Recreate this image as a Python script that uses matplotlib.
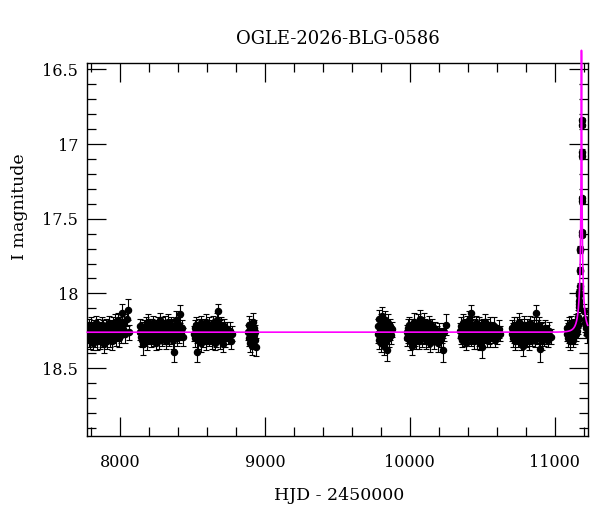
import numpy as np
import matplotlib
matplotlib.use("Agg")
import matplotlib.pyplot as plt
from matplotlib.ticker import MultipleLocator, FuncFormatter

# photometry, one list per observing season (HJD - 2450000, I mag, error in 0.01 mag)
t1 = [7777, 7780, 7784, 7787, 7791, 7795, 7798, 7802, 7806, 7809, 7813, 7817, 7821, 7824, 7828, 7832, 7836,
      7839, 7843, 7847, 7851, 7855, 7858, 7862, 7866, 7870, 7873, 7877, 7881, 7885, 7889, 7892, 7896, 7900,
      7904, 7908, 7911, 7915, 7919, 7923, 7927, 7930, 7934, 7938, 7942, 7946, 7950, 7954, 7958, 7962, 7967,
      7971, 7976, 7981, 7986, 7991, 7996, 8001, 8007, 8012, 8019, 8027, 8036, 8045, 8053, 8060]
m1 = [18.27, 18.24, 18.30, 18.22, 18.28, 18.31, 18.25, 18.21, 18.29, 18.26,
      18.33, 18.23, 18.27, 18.30, 18.24, 18.20, 18.28, 18.26, 18.32, 18.25,
      18.22, 18.29, 18.27, 18.31, 18.24, 18.26, 18.21, 18.30, 18.28, 18.23,
      18.34, 18.26, 18.25, 18.29, 18.22, 18.27, 18.31, 18.24, 18.28, 18.20,
      18.26, 18.30, 18.23, 18.27, 18.25, 18.32, 18.21, 18.28, 18.24, 18.26,
      18.19, 18.29, 18.23, 18.27, 18.18, 18.30, 18.25, 18.21, 18.28, 18.13,
      18.24, 18.19, 18.27, 18.17, 18.11, 18.26]
e1 = [5, 5, 6, 5, 5, 6, 5, 5, 5, 6, 5, 5, 5, 6, 5, 5, 5, 5, 6, 5, 5, 5, 5, 6, 5, 5, 5, 6, 5, 5, 6, 5, 5,
      5, 5, 5, 6, 5, 5, 5, 5, 6, 5, 5, 5, 6, 5, 5, 5, 5, 5, 6, 5, 5, 5, 6, 5, 5, 5, 6, 5, 5, 6, 5, 7, 5]

t2 = [8138, 8141, 8145, 8149, 8152, 8156, 8159, 8163, 8167, 8170, 8174, 8178, 8182, 8185, 8189, 8193, 8196,
      8200, 8204, 8208, 8211, 8215, 8219, 8222, 8226, 8230, 8234, 8237, 8241, 8245, 8248, 8252, 8256, 8260,
      8263, 8267, 8271, 8274, 8278, 8282, 8286, 8289, 8293, 8297, 8300, 8304, 8308, 8312, 8315, 8319, 8323,
      8326, 8330, 8334, 8338, 8341, 8345, 8349, 8352, 8356, 8360, 8364, 8367, 8371, 8373, 8378, 8382, 8387,
      8393, 8399, 8405, 8410, 8414, 8420, 8427, 8434]
m2 = [18.26, 18.22, 18.29, 18.24, 18.31, 18.27, 18.34, 18.23, 18.28, 18.25,
      18.30, 18.21, 18.27, 18.24, 18.32, 18.26, 18.19, 18.29, 18.23, 18.27,
      18.25, 18.31, 18.22, 18.28, 18.26, 18.20, 18.30, 18.24, 18.27, 18.33,
      18.23, 18.26, 18.29, 18.21, 18.27, 18.25, 18.31, 18.18, 18.28, 18.24,
      18.26, 18.30, 18.22, 18.27, 18.24, 18.29, 18.20, 18.26, 18.32, 18.25,
      18.23, 18.28, 18.19, 18.27, 18.30, 18.24, 18.26, 18.21, 18.29, 18.25,
      18.22, 18.28, 18.31, 18.26, 18.39, 18.23, 18.27, 18.18, 18.30, 18.25,
      18.21, 18.28, 18.14, 18.26, 18.23, 18.29]
e2 = [5, 5, 6, 5, 5, 5, 7, 5, 5, 6, 5, 5, 5, 5, 6, 5, 5, 5, 6, 5, 5, 5, 5, 6, 5, 5, 5, 6, 5, 5, 5, 6, 5,
      5, 5, 5, 6, 5, 5, 5, 5, 5, 6, 5, 5, 5, 5, 6, 5, 5, 5, 6, 5, 5, 5, 5, 6, 5, 5, 5, 5, 5, 6, 5, 7, 5,
      5, 6, 5, 5, 5, 5, 6, 5, 5, 6]

t3 = [8511, 8515, 8518, 8522, 8525, 8529, 8533, 8536, 8540, 8544, 8547, 8551, 8555, 8558, 8562, 8566, 8569,
      8573, 8577, 8580, 8584, 8588, 8591, 8595, 8599, 8602, 8606, 8610, 8613, 8617, 8621, 8624, 8628, 8632,
      8635, 8639, 8643, 8646, 8650, 8654, 8657, 8661, 8665, 8668, 8672, 8677, 8680, 8684, 8688, 8691, 8695,
      8699, 8703, 8707, 8711, 8716, 8721, 8727, 8733, 8740, 8748, 8757, 8765, 8770]
m3 = [18.27, 18.23, 18.30, 18.25, 18.21, 18.39, 18.28, 18.24, 18.31, 18.26,
      18.22, 18.29, 18.25, 18.33, 18.20, 18.27, 18.24, 18.30, 18.26, 18.22,
      18.28, 18.25, 18.32, 18.19, 18.27, 18.24, 18.29, 18.26, 18.21, 18.30,
      18.25, 18.28, 18.23, 18.31, 18.26, 18.20, 18.29, 18.24, 18.27, 18.33,
      18.22, 18.26, 18.30, 18.24, 18.18, 18.12, 18.28, 18.25, 18.31, 18.23,
      18.27, 18.21, 18.29, 18.25, 18.34, 18.26, 18.22, 18.30, 18.27, 18.24,
      18.29, 18.25, 18.32, 18.27]
e3 = [5, 5, 6, 5, 5, 7, 5, 5, 6, 5, 5, 5, 5, 6, 5, 5, 5, 6, 5, 5, 5, 5, 6, 5, 5, 5, 5, 6, 5, 5, 5, 5, 5,
      6, 5, 5, 5, 5, 6, 5, 5, 5, 6, 5, 5, 5, 5, 5, 6, 5, 5, 5, 5, 6, 5, 5, 5, 6, 5, 5, 5, 6, 5, 5]

t4 = [8884, 8888, 8891, 8895, 8898, 8902, 8905, 8909, 8912, 8916, 8919, 8923, 8926, 8930, 8934, 8938]
m4 = [18.26, 18.21, 18.30, 18.24, 18.33, 18.27, 18.22, 18.35, 18.25, 18.29, 18.19, 18.28, 18.23, 18.31,
      18.26, 18.36]
e4 = [5, 6, 5, 5, 6, 5, 5, 6, 5, 5, 6, 5, 5, 6, 5, 6]

t5 = [9779, 9782, 9785, 9789, 9792, 9795, 9799, 9802, 9805, 9809, 9812, 9815, 9819, 9822, 9825, 9829, 9832,
      9835, 9839, 9842, 9845, 9849, 9852, 9856, 9860, 9865, 9871, 9878]
m5 = [18.27, 18.22, 18.31, 18.17, 18.25, 18.29, 18.20, 18.33, 18.24, 18.15, 18.28, 18.26, 18.35, 18.21,
      18.30, 18.18, 18.27, 18.32, 18.23, 18.29, 18.38, 18.25, 18.20, 18.30, 18.26, 18.22, 18.28, 18.24]
e5 = [6, 5, 6, 6, 5, 5, 6, 6, 5, 6, 5, 5, 6, 5, 6, 6, 5, 6, 5, 5, 7, 5, 6, 6, 5, 5, 6, 5]

t6 = [9981, 9984, 9988, 9991, 9995, 9998, 10002, 10005, 10009, 10012, 10015, 10019, 10022, 10026, 10029,
      10033, 10036, 10040, 10043, 10047, 10050, 10054, 10057, 10061, 10064, 10068, 10070, 10075, 10078,
      10082, 10085, 10089, 10092, 10096, 10099, 10103, 10106, 10110, 10113, 10117, 10120, 10124, 10127,
      10131, 10134, 10138, 10141, 10145, 10149, 10153, 10157, 10162, 10167, 10173, 10190, 10198, 10205,
      10212, 10219, 10227, 10236, 10250]
m6 = [18.26, 18.30, 18.23, 18.28, 18.21, 18.32, 18.25, 18.29, 18.24, 18.27,
      18.35, 18.22, 18.28, 18.25, 18.19, 18.30, 18.26, 18.23, 18.31, 18.27,
      18.24, 18.29, 18.20, 18.26, 18.32, 18.23, 18.17, 18.28, 18.25, 18.21,
      18.30, 18.26, 18.24, 18.19, 18.29, 18.27, 18.22, 18.31, 18.25, 18.28,
      18.23, 18.26, 18.30, 18.20, 18.27, 18.24, 18.33, 18.25, 18.28, 18.22,
      18.29, 18.26, 18.31, 18.24, 18.27, 18.33, 18.25, 18.30, 18.28, 18.38,
      18.26, 18.21]
e6 = [5, 5, 6, 5, 5, 6, 5, 5, 5, 6, 6, 5, 5, 5, 6, 5, 5, 5, 6, 5, 5, 5, 6, 5, 5, 5, 6, 5, 5, 5, 6, 5, 5,
      6, 5, 5, 5, 6, 5, 5, 5, 5, 6, 5, 5, 5, 6, 5, 5, 5, 5, 5, 6, 5, 5, 6, 5, 6, 5, 8, 6, 7]

t7 = [10347, 10351, 10354, 10358, 10362, 10365, 10369, 10373, 10376, 10380, 10384, 10387, 10391, 10395,
      10398, 10402, 10406, 10409, 10413, 10417, 10421, 10425, 10428, 10432, 10436, 10439, 10443, 10447,
      10450, 10454, 10458, 10461, 10465, 10469, 10472, 10476, 10480, 10483, 10487, 10491, 10494, 10498,
      10501, 10505, 10509, 10513, 10516, 10520, 10524, 10528, 10531, 10535, 10539, 10543, 10547, 10551,
      10556, 10561, 10567, 10573, 10580, 10588, 10596, 10605, 10615, 10626]
m7 = [18.25, 18.29, 18.22, 18.27, 18.31, 18.24, 18.20, 18.28, 18.26, 18.30,
      18.23, 18.27, 18.33, 18.25, 18.21, 18.29, 18.26, 18.18, 18.28, 18.24,
      18.30, 18.13, 18.26, 18.22, 18.29, 18.25, 18.32, 18.23, 18.27, 18.20,
      18.28, 18.25, 18.31, 18.24, 18.27, 18.21, 18.29, 18.26, 18.33, 18.23,
      18.28, 18.25, 18.36, 18.22, 18.27, 18.30, 18.24, 18.19, 18.28, 18.26,
      18.31, 18.23, 18.27, 18.25, 18.29, 18.21, 18.30, 18.26, 18.24, 18.28,
      18.22, 18.31, 18.26, 18.29, 18.24, 18.27]
e7 = [5, 5, 6, 5, 5, 5, 6, 5, 5, 5, 6, 5, 5, 5, 6, 5, 5, 6, 5, 5, 5, 5, 5, 6, 5, 5, 5, 6, 5, 5, 5, 5, 6,
      5, 5, 5, 6, 5, 5, 5, 5, 5, 7, 5, 5, 6, 5, 5, 5, 5, 5, 6, 5, 5, 5, 5, 6, 5, 5, 5, 6, 5, 5, 5, 6, 5]

t8 = [10704, 10708, 10711, 10715, 10719, 10722, 10726, 10730, 10733, 10737, 10741, 10744, 10748, 10752,
      10755, 10759, 10763, 10766, 10770, 10774, 10777, 10780, 10784, 10788, 10791, 10795, 10799, 10802,
      10806, 10810, 10813, 10817, 10821, 10824, 10828, 10832, 10835, 10839, 10843, 10846, 10850, 10854,
      10857, 10861, 10865, 10868, 10871, 10876, 10879, 10883, 10887, 10890, 10894, 10899, 10902, 10906,
      10910, 10914, 10919, 10924, 10930, 10937, 10945, 10954, 10964, 10976]
m8 = [18.27, 18.23, 18.30, 18.25, 18.28, 18.21, 18.32, 18.26, 18.24, 18.29,
      18.22, 18.27, 18.31, 18.25, 18.19, 18.28, 18.26, 18.33, 18.23, 18.27,
      18.30, 18.35, 18.24, 18.28, 18.21, 18.26, 18.31, 18.25, 18.29, 18.22,
      18.27, 18.24, 18.32, 18.26, 18.20, 18.29, 18.25, 18.28, 18.23, 18.30,
      18.26, 18.22, 18.28, 18.25, 18.31, 18.24, 18.13, 18.27, 18.29, 18.23,
      18.26, 18.30, 18.21, 18.37, 18.28, 18.25, 18.32, 18.24, 18.27, 18.30,
      18.23, 18.28, 18.26, 18.31, 18.25, 18.29]
e8 = [5, 5, 6, 5, 5, 5, 6, 5, 5, 5, 6, 5, 5, 5, 6, 5, 5, 5, 6, 5, 5, 7, 5, 5, 6, 5, 5, 5, 6, 5, 5, 5, 6,
      5, 5, 5, 6, 5, 5, 5, 5, 6, 5, 5, 5, 6, 5, 5, 5, 5, 5, 6, 5, 9, 5, 5, 6, 5, 5, 5, 5, 6, 5, 5, 6, 5]

# last season with the event
t9 = [11083, 11086, 11089, 11093, 11096, 11099, 11103, 11106, 11110, 11113, 11117, 11120, 11123, 11127,
      11130, 11134, 11137, 11141, 11144, 11148, 11151, 11155, 11158, 11161, 11164,
      11165.8, 11166.1, 11168.0, 11170.0, 11170.3, 11172.0, 11175.1, 11175.4, 11177.6, 11177.9,
      11186.6, 11186.9, 11187.4, 11187.7, 11189.0, 11189.3, 11190.9, 11191.2,
      11203, 11207, 11211, 11215, 11219, 11223]
m9 = [18.27, 18.23, 18.30, 18.25, 18.21, 18.28, 18.32, 18.24, 18.27, 18.20, 18.29, 18.26, 18.23, 18.31,
      18.25, 18.22, 18.28, 18.24, 18.19, 18.27, 18.22, 18.25, 18.18, 18.21, 18.16,
      18.07, 18.09, 18.05, 17.99, 18.01, 17.95, 17.84, 17.85, 17.70, 17.71,
      16.84, 16.87, 17.05, 17.08, 17.36, 17.38, 17.59, 17.61,
      18.12, 18.17, 18.20, 18.23, 18.21, 18.27]
e9 = [5, 5, 6, 5, 5, 5, 6, 5, 5, 5, 5, 6, 5, 5, 5, 5, 6, 5, 5, 5, 5, 5, 5, 6, 5,
      3, 3, 3, 2, 2, 2, 2, 2, 2, 2,
      1.5, 1.5, 1.5, 1.5, 1.5, 1.5, 1.5, 1.5,
      5, 5, 6, 5, 5, 6]

# point-source point-lens model
t0 = 11185.0
tE = 40.0
u0 = 0.031
fs = 0.15
I0 = 18.26

hjd = np.concatenate([t1, t2, t3, t4, t5, t6, t7, t8, t9])
mag = np.concatenate([m1, m2, m3, m4, m5, m6, m7, m8, m9])
err = np.concatenate([e1, e2, e3, e4, e5, e6, e7, e8, e9]) * 0.01

xmin, xmax = 7774, 11228
tt = np.arange(xmin, xmax, 0.05)
u = np.sqrt(u0 ** 2 + ((tt - t0) / tE) ** 2)
A = (u ** 2 + 2) / (u * np.sqrt(u ** 2 + 4))
model = I0 - 2.5 * np.log10(fs * A + 1 - fs)

plt.rcParams["font.family"] = "DejaVu Serif"

fig = plt.figure(figsize=(6, 5.12), dpi=100)
ax = fig.add_axes([87.3 / 600, 1 - 436 / 512, 500.4 / 600, 373.3 / 512])

ax.errorbar(hjd, mag, yerr=err, fmt="o", ms=4.4, mfc="k", mec="k", ecolor="k",
            elinewidth=0.8, capsize=2.5, capthick=0.8, zorder=2)
ax.plot(tt, model, color="#ff00ff", lw=1.2, zorder=3, clip_on=False)

ax.set_xlim(xmin, xmax)
ax.set_ylim(18.955, 16.455)
ax.xaxis.set_major_locator(MultipleLocator(1000))
ax.xaxis.set_minor_locator(MultipleLocator(200))
ax.yaxis.set_major_locator(MultipleLocator(0.5))
ax.yaxis.set_minor_locator(MultipleLocator(0.1))
ax.yaxis.set_major_formatter(FuncFormatter(lambda v, p: "%g" % v))
ax.tick_params(which="both", direction="in", top=True, right=True, width=0.9, labelsize=11.5)
ax.tick_params(which="major", length=13.7)
ax.tick_params(which="minor", length=6.7)
ax.tick_params(axis="x", pad=13)
ax.tick_params(axis="y", pad=6.5)
for s in ax.spines.values():
    s.set_linewidth(1.0)

fig.text(337.5 / 600, 1 - 39.5 / 512, "OGLE-2026-BLG-0586", ha="center", va="center", fontsize=13)
fig.text(339 / 600, 1 - 495 / 512, "HJD - 2450000", ha="center", va="center", fontsize=12.5)
fig.text(20 / 600, 1 - 206.5 / 512, "I magnitude", ha="center", va="center", rotation=90, fontsize=12.5)

plt.savefig("out.png", dpi=100)
